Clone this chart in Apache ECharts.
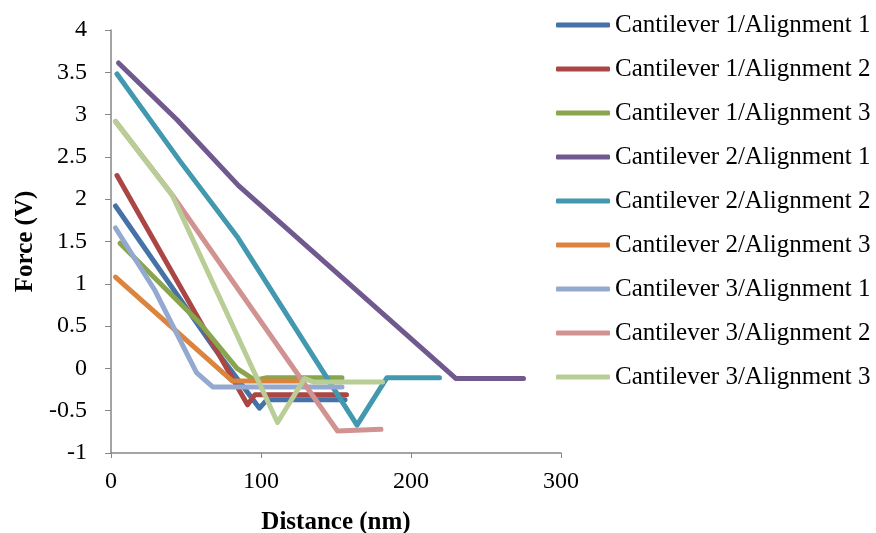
<!DOCTYPE html>
<html>
<head>
<meta charset="utf-8">
<script src="https://cdn.jsdelivr.net/npm/echarts@6/dist/echarts.min.js"></script>
<style>
  html, body { margin: 0; padding: 0; background: #fff; }
  #chart { width: 876px; height: 533px; }
</style>
</head>
<body>
<div id="chart"></div>
<script>
// Force–distance curves, [distance (nm), force (V)]
const seriesNames = [
  'Cantilever 1/Alignment 1',
  'Cantilever 1/Alignment 2',
  'Cantilever 1/Alignment 3',
  'Cantilever 2/Alignment 1',
  'Cantilever 2/Alignment 2',
  'Cantilever 2/Alignment 3',
  'Cantilever 3/Alignment 1',
  'Cantilever 3/Alignment 2',
  'Cantilever 3/Alignment 3'
];

const c1a1 = [[3, 1.92], [68, 0.26], [99, -0.47], [104, -0.37], [156, -0.37]];
const c1a2 = [[4, 2.28], [91, -0.43], [96, -0.31], [157, -0.31]];
const c1a3 = [[6, 1.48], [59, 0.54], [84, 0.0], [96, -0.14], [104, -0.11], [154, -0.11]];
const c2a1 = [[5, 3.61], [44, 2.94], [85, 2.16], [230, -0.12], [275, -0.12]];
const c2a2 = [[4, 3.48], [46, 2.45], [84, 1.56], [164, -0.67], [184, -0.11], [219, -0.11]];
const c2a3 = [[3, 1.08], [81, -0.15], [125, -0.15]];
const c3a1 = [[3, 1.66], [29, 0.93], [57, -0.05], [68, -0.22], [154, -0.22]];
const c3a2 = [[3, 2.92], [40, 2.07], [151, -0.74], [180, -0.72]];
const c3a3 = [[3, 2.92], [41, 2.04], [111, -0.64], [129, -0.12], [135, -0.16], [181, -0.16]];

const seriesData = [c1a1, c1a2, c1a3, c2a1, c2a2, c2a3, c3a1, c3a2, c3a3];

const palette = ['#4572A7', '#AA4643', '#89A54E', '#71588F', '#4198AF',
                 '#DB843D', '#93A9CF', '#D19392', '#B9CD96'];

const xTicks = { min: 0, max: 300, step: 100 };
const yTicks = { min: -1, max: 4, step: 0.5 };

const serif = '"Liberation Serif", "Times New Roman", serif';
const axisGray = '#868686';

const chart = echarts.init(document.getElementById('chart'));
chart.setOption({
  animation: false,
  color: palette,
  grid: {
    left: 111, top: 30, width: 450, height: 423,
    containLabel: false,
    outerBoundsMode: 'none'
  },
  legend: {
    orient: 'vertical',
    left: 556,
    top: 10,
    padding: 0,
    icon: 'roundRect',
    itemWidth: 54,
    itemHeight: 5,
    itemGap: 14,
    textStyle: { fontFamily: serif, fontSize: 25, color: '#000', lineHeight: 30 },
    data: seriesNames
  },
  xAxis: {
    type: 'value',
    min: xTicks.min, max: xTicks.max, interval: xTicks.step,
    name: 'Distance (nm)',
    nameLocation: 'middle',
    nameGap: 57,
    nameTextStyle: { fontFamily: serif, fontSize: 25, fontWeight: 'bold', color: '#000' },
    axisLine: { onZero: false, lineStyle: { color: axisGray, width: 1.5 } },
    axisTick: { show: true, length: 5, lineStyle: { color: axisGray } },
    axisLabel: { fontFamily: serif, fontSize: 24, color: '#000', margin: 17 },
    splitLine: { show: false }
  },
  yAxis: {
    type: 'value',
    min: yTicks.min, max: yTicks.max, interval: yTicks.step,
    name: 'Force (V)',
    nameLocation: 'middle',
    nameGap: 72,
    nameRotate: 90,
    nameTextStyle: { fontFamily: serif, fontSize: 25, fontWeight: 'bold', color: '#000' },
    axisLine: { show: true, lineStyle: { color: axisGray, width: 1.5 } },
    axisTick: { show: true, length: 6, lineStyle: { color: axisGray } },
    axisLabel: { fontFamily: serif, fontSize: 24, color: '#000', margin: 24 },
    splitLine: { show: false }
  },
  series: seriesNames.map((name, i) => ({
    name: name,
    type: 'line',
    data: seriesData[i],
    symbol: 'none',
    smooth: false,
    lineStyle: { width: 5, cap: 'round', join: 'round' }
  }))
});
</script>
</body>
</html>
